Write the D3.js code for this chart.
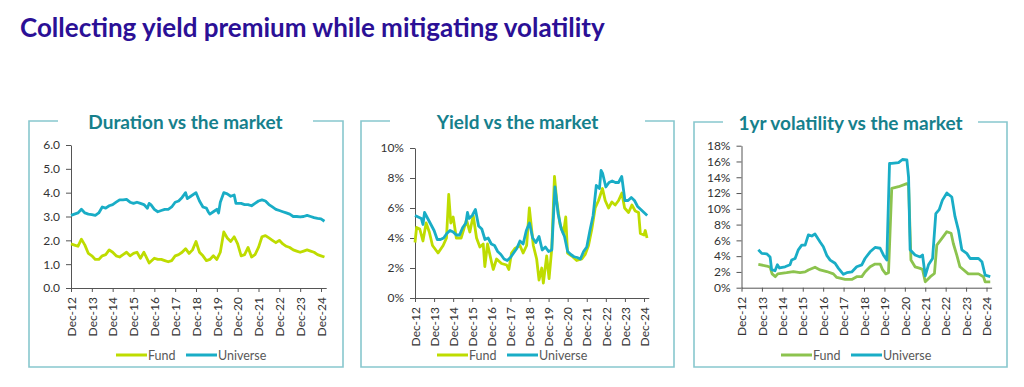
<!DOCTYPE html>
<html>
<head>
<meta charset="utf-8">
<script src="https://cdn.jsdelivr.net/npm/d3@7"></script>
<style>
body{margin:0;background:#fff;}
svg{display:block;font-family:Lato,"Open Sans",sans-serif;}
</style>
</head>
<body>
<script>
// months counted from Dec-12
const tickMonths=[0,12,24,36,48,60,72,84,96,108,120,132,144];
const tickLabels=["Dec-12","Dec-13","Dec-14","Dec-15","Dec-16","Dec-17","Dec-18","Dec-19","Dec-20","Dec-21","Dec-22","Dec-23","Dec-24"];
const seriesNames=["Fund","Universe"];

// duration (years)
const durFund=[[0,1.85],[2,1.8],[4,1.75],[6,2.05],[8,1.8],[10,1.45],[12,1.35],[14,1.2],[16,1.2],[18,1.35],[20,1.4],[22,1.6],[24,1.5],[26,1.35],[28,1.3],[30,1.4],[32,1.5],[34,1.35],[36,1.45],[38,1.5],[40,1.25],[42,1.5],[44,1.2],[45,1.05],[48,1.25],[50,1.2],[52,1.2],[54,1.15],[56,1.1],[58,1.15],[60,1.35],[62,1.4],[64,1.5],[66,1.65],[68,1.45],[70,1.6],[72,1.95],[74,1.5],[76,1.35],[78,1.15],[80,1.2],[82,1.35],[84,1.2],[86,1.5],[88,2.35],[90,2.1],[92,1.95],[94,2.15],[96,1.85],[98,1.35],[100,1.4],[102,1.7],[104,1.3],[106,1.4],[108,1.7],[110,2.15],[112,2.2],[114,2.1],[116,2.0],[118,1.9],[120,2.0],[122,1.85],[124,1.75],[126,1.7],[128,1.6],[130,1.55],[132,1.5],[134,1.55],[136,1.6],[138,1.55],[140,1.5],[142,1.4],[144,1.35],[146,1.3]];
const durUni=[[0,3.05],[2,3.1],[4,3.15],[6,3.3],[8,3.15],[10,3.1],[12,3.08],[14,3.05],[16,3.15],[18,3.4],[20,3.35],[22,3.45],[24,3.5],[26,3.6],[28,3.7],[30,3.7],[32,3.72],[34,3.6],[36,3.55],[38,3.6],[40,3.55],[42,3.5],[44,3.35],[45,3.55],[46,3.5],[48,3.3],[50,3.2],[52,3.25],[54,3.3],[56,3.3],[58,3.4],[60,3.6],[62,3.65],[64,3.8],[66,4.0],[67,3.75],[69,3.85],[72,4.0],[74,3.65],[76,3.4],[78,3.35],[79,3.2],[80,3.1],[82,3.2],[84,3.3],[85,3.15],[86,3.6],[88,4.0],[90,3.95],[92,3.85],[94,3.9],[95,3.55],[96,3.55],[98,3.55],[100,3.5],[102,3.5],[104,3.45],[106,3.55],[108,3.65],[110,3.7],[112,3.65],[114,3.5],[116,3.4],[118,3.3],[120,3.25],[122,3.2],[124,3.15],[126,3.1],[128,3.0],[130,3.0],[132,2.98],[134,3.0],[136,3.05],[138,3.0],[140,2.95],[142,2.92],[144,2.9],[146,2.8]];

// yield (%)
const yldFund=[[0,3.7],[1,4.7],[3,4.6],[5,3.8],[7,5.0],[9,4.4],[11,3.5],[14.5,3.0],[17.7,3.5],[19.8,4.0],[21.2,6.9],[22.5,5.0],[24,5.4],[26,4.0],[29,4.0],[32.4,5.2],[34.5,4.4],[36.6,5.5],[38.7,4.0],[40.8,3.4],[42.9,3.6],[43.9,2.1],[45.6,3.6],[48.1,2.4],[49.2,1.9],[51.3,2.6],[54.4,2.3],[57.6,2.2],[59,1.9],[60.7,3.0],[62.8,3.3],[66,3.5],[68,3.0],[70.2,3.5],[71.9,6.0],[74.4,3.5],[76.5,2.6],[78,1.2],[79.7,2.0],[80.7,1.0],[82.8,2.8],[84.3,1.3],[86,3.3],[87.7,8.1],[89.1,6.5],[91.2,4.9],[93.3,4.3],[94.8,5.4],[95.9,3.0],[98.6,2.8],[101.7,2.5],[104.9,2.6],[107,2.9],[109.1,3.5],[111.2,4.6],[113.3,6.0],[115.4,6.5],[117.9,7.3],[119.6,6.5],[121.7,6.0],[123.8,6.4],[125.9,6.2],[128,6.5],[130.1,7.0],[131.8,6.0],[134.3,5.7],[136.4,6.2],[138.5,5.8],[140.6,5.7],[141.7,4.3],[144,4.2],[144.8,4.5],[145.9,4.0]];
const yldUni=[[0,5.5],[2,5.4],[4,5.3],[5,4.9],[6,5.7],[8,5.3],[10,4.9],[12,4.5],[14,3.9],[16,3.9],[18,4.0],[20,4.3],[22,4.5],[24,4.4],[26,4.2],[28,4.2],[30,4.7],[32,5.0],[33,5.7],[34,5.3],[36,5.5],[38,5.9],[40,4.8],[42,4.6],[44,3.9],[46,4.0],[48,3.6],[50,3.5],[52,3.1],[54,2.9],[56,2.6],[58,2.5],[60,2.7],[62,3.0],[64,3.3],[66,3.8],[68,3.6],[70,4.5],[72,5.0],[74,4.0],[76,3.7],[78,4.1],[80,3.2],[82,3.4],[84,3.1],[86,3.2],[88,7.4],[90,5.6],[92,4.6],[94,4.1],[96,3.1],[98,2.9],[100,2.75],[102,2.7],[104,2.6],[106,3.1],[108,3.4],[110,4.5],[112,5.5],[114,7.5],[116,7.3],[117,8.5],[118,8.3],[120,7.4],[122,7.7],[124,7.8],[126,7.7],[128,7.7],[130,8.1],[132,6.5],[134,6.5],[136,6.7],[138,6.5],[140,6.1],[142,5.9],[144,5.7],[146,5.5]];

// 1yr volatility (%)
const volFund=[[9.9,2.95],[14.8,2.75],[16.8,2.6],[18,1.75],[19.9,1.4],[21.3,1.75],[26.5,1.9],[30.5,2.05],[34.4,1.9],[37.4,2.0],[39.3,2.25],[43.2,2.6],[46.2,2.25],[50.1,2.05],[54,1.75],[56,1.3],[60.9,1.05],[64.8,1.05],[67.7,1.4],[70.7,1.4],[72.6,2.0],[75.6,2.65],[78.5,3.0],[81.5,3.0],[83,2.25],[84.8,1.75],[86.4,1.9],[88.3,12.6],[92.3,12.8],[97.2,13.2],[98.2,13.0],[99.6,3.5],[102,2.65],[105,2.45],[106.4,2.3],[108,0.75],[111,1.4],[113.4,1.8],[114.8,5.4],[117.8,6.25],[120.7,7.1],[123.2,6.9],[124.5,5.6],[126.5,4.15],[128.4,2.65],[133.3,1.75],[139.3,1.75],[142.2,1.4],[143.2,0.75],[146.2,0.75]];
const volUni=[[9.9,4.8],[11.9,4.35],[14.8,4.3],[16.8,3.9],[17.7,2.3],[19.7,2.15],[21.1,2.9],[22.3,2.5],[25.6,2.65],[28.5,2.9],[29.5,3.5],[31.5,3.7],[33.4,4.8],[35.4,5.4],[37.4,5.4],[39.3,6.7],[41.3,6.55],[43.2,6.8],[46.2,5.8],[48.1,5.2],[50.1,4.1],[52.1,3.5],[55,3.1],[57,2.45],[59.9,1.7],[61.9,1.9],[64.8,2.0],[67.7,2.65],[70.7,2.9],[72.6,3.7],[75.6,4.55],[78.5,5.1],[81.5,5.0],[83.4,4.15],[85.4,3.5],[87,15.75],[88.3,15.75],[92.3,15.85],[94.6,16.25],[97.2,16.2],[98.2,14.0],[99.1,4.8],[102,4.15],[105,3.9],[106.4,4.15],[108,1.5],[109.9,2.9],[112.3,3.7],[114.2,9.4],[116.2,9.9],[118.1,11.1],[120.7,12.0],[123.6,11.5],[125.5,9.0],[127.5,7.3],[129.5,4.8],[132.4,4.35],[134.4,3.7],[139.3,3.7],[141.3,3.3],[143.2,1.6],[146.2,1.4]];

const w=1024,h=387;
const svg=d3.select("body").append("svg").attr("width",w).attr("height",h);

svg.append("text")
  .attr("x",20).attr("y",37)
  .style("font-size","26px").style("font-weight","bold")
  .attr("fill","#2b1096")
  .text("Collecting yield premium while mitigating volatility");

const uniColor="#19adc6";
const frameColor="#88c7ce";

const panels=[
  {title:"Duration vs the market",box:[29,121,343,367],gap:[58,313],xr:[71,321],yr:[288,145],yMax:6,step:1,fmt:d3.format(".1f"),fund:durFund,uni:durUni,fundColor:"#bedc00",legendX:116},
  {title:"Yield vs the market",box:[361,121,674,367],gap:[390,645],xr:[415,644],yr:[298,148],yMax:10,step:2,fmt:d=>d+"%",fund:yldFund,uni:yldUni,fundColor:"#bedc00",legendX:437},
  {title:"1yr volatility vs the market",box:[694,122,1007,367],gap:[723,978],xr:[741.5,986.5],yr:[287.7,145.7],yMax:18,step:2,fmt:d=>d+"%",fund:volFund,uni:volUni,fundColor:"#8cc34e",legendX:781}
];

panels.forEach(p=>{
  const g=svg.append("g");
  const [x0,y0,x1,y1]=p.box;
  // frame with a gap for the title
  g.append("path")
    .attr("d",`M${p.gap[0]},${y0}H${x0}V${y1}H${x1}V${y0}H${p.gap[1]}`)
    .attr("fill","none").attr("stroke",frameColor).attr("stroke-width",1.6);
  g.append("text")
    .attr("x",(p.gap[0]+p.gap[1])/2).attr("y",y0+8)
    .attr("text-anchor","middle")
    .style("font-size","19px").style("font-weight","bold")
    .attr("fill","#16808c")
    .text(p.title);

  const x=d3.scaleLinear().domain([0,147]).range([p.xr[0],p.xr[0]+(p.xr[1]-p.xr[0])*147/144]);
  const y=d3.scaleLinear().domain([0,p.yMax]).range(p.yr);

  const yAxis=g.append("g").attr("transform",`translate(${p.xr[0]},0)`)
    .call(d3.axisLeft(y).tickValues(d3.range(0,p.yMax+0.001,p.step)).tickFormat(p.fmt).tickSize(5).tickPadding(6).tickSizeOuter(0));
  const xAxis=g.append("g").attr("transform",`translate(0,${p.yr[0]})`)
    .call(d3.axisBottom(x).tickValues(tickMonths).tickFormat((d,i)=>tickLabels[i]).tickSize(4).tickSizeOuter(0));
  xAxis.selectAll("text")
    .attr("transform","rotate(-90)")
    .attr("text-anchor","end")
    .attr("x",-9).attr("y",0).attr("dy","0.35em");
  [yAxis,xAxis].forEach(a=>{
    a.selectAll("path,line").attr("stroke","#555");
    a.selectAll("text").attr("fill","#333").style("font-size","12px").style("font-family","Lato,sans-serif");
  });

  const line=d3.line().x(d=>x(d[0])).y(d=>y(d[1]));
  g.append("path").datum(p.fund).attr("d",line)
    .attr("fill","none").attr("stroke",p.fundColor).attr("stroke-width",2.8).attr("stroke-linejoin","round");
  g.append("path").datum(p.uni).attr("d",line)
    .attr("fill","none").attr("stroke",uniColor).attr("stroke-width",2.8).attr("stroke-linejoin","round");

  // legend
  const ly=355;
  const items=[{name:seriesNames[0],color:p.fundColor,x:p.legendX},{name:seriesNames[1],color:uniColor,x:p.legendX+70}];
  items.forEach(it=>{
    g.append("line").attr("x1",it.x).attr("x2",it.x+31).attr("y1",ly).attr("y2",ly)
      .attr("stroke",it.color).attr("stroke-width",3);
    g.append("text").attr("x",it.x+32).attr("y",ly+4.5)
      .style("font-size","12.5px").attr("fill","#595959").text(it.name);
  });
});
</script>
</body>
</html>
